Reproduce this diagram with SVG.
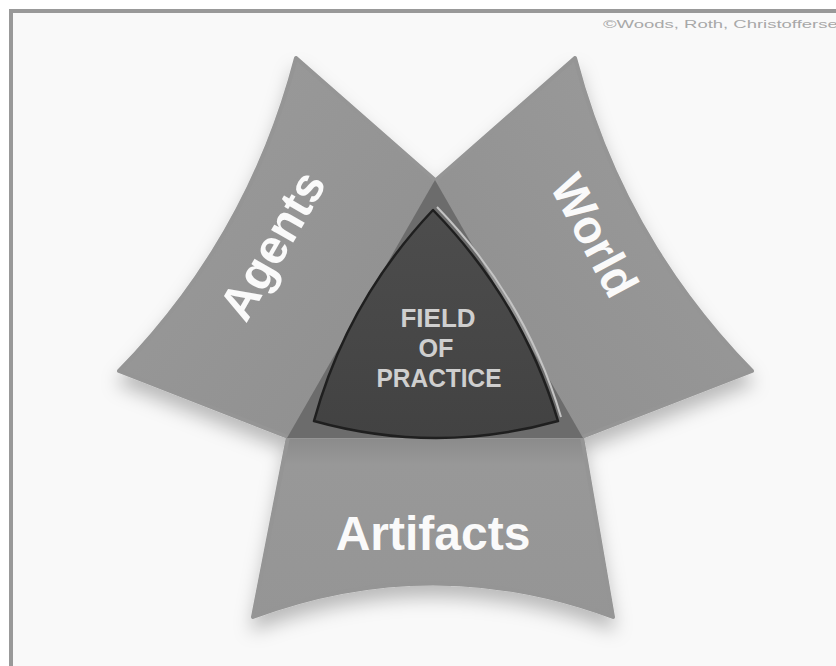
<svg xmlns="http://www.w3.org/2000/svg" width="836" height="666" viewBox="0 0 836 666">
  <defs>
    <filter id="shadow" x="-20%" y="-20%" width="140%" height="150%">
      <feDropShadow dx="0" dy="12" stdDeviation="9" flood-color="#000" flood-opacity="0.25"/>
    </filter>
    <linearGradient id="wingA" x1="0" y1="0" x2="1" y2="1">
      <stop offset="0" stop-color="#9c9c9c"/>
      <stop offset="1" stop-color="#8e8e8e"/>
    </linearGradient>
    <linearGradient id="wingW" x1="1" y1="0" x2="0" y2="1">
      <stop offset="0" stop-color="#9c9c9c"/>
      <stop offset="1" stop-color="#8e8e8e"/>
    </linearGradient>
    <linearGradient id="wingB" x1="0" y1="0" x2="0" y2="1">
      <stop offset="0" stop-color="#8a8a8a"/>
      <stop offset="0.15" stop-color="#989898"/>
      <stop offset="1" stop-color="#959595"/>
    </linearGradient>
    <linearGradient id="core" x1="0" y1="0" x2="0" y2="1">
      <stop offset="0" stop-color="#4d4d4d"/>
      <stop offset="1" stop-color="#424242"/>
    </linearGradient>
  </defs>
  <style>
    .wing { stroke-linejoin: round; stroke-width: 4; }
    .lbl { font-family: "Liberation Sans", Arial, sans-serif; font-weight: bold; font-size: 48px; fill: #fafafa; }
    .core { font-family: "Liberation Sans", Arial, sans-serif; font-weight: bold; font-size: 26px; fill: #cfcfcf; text-anchor: middle; }
  </style>

  <rect x="0" y="0" width="836" height="666" fill="#ffffff"/>
  <rect x="11" y="11" width="840" height="680" fill="#f9f9f9" stroke="#999999" stroke-width="4"/>
  <text x="603" y="28" font-family="Liberation Sans, Arial, sans-serif" font-size="10" fill="#a8a8a8" textLength="245" lengthAdjust="spacingAndGlyphs">©Woods, Roth, Christoffersen</text>

  <g filter="url(#shadow)">
    <g id="agents">
      <path class="wing" d="M296,58 L435,180 L435,437 L288,437 L119,371 Q249,238 296,58 Z" fill="url(#wingA)" stroke="#959595"/>
    </g>
    <g id="world">
      <path class="wing" d="M575,58 L436,180 L436,437 L582,437 L752,371 Q622,238 575,58 Z" fill="url(#wingW)" stroke="#959595"/>
    </g>
    <g id="artifacts">
      <path class="wing" d="M288,437 L582,437 L613,617 Q433,550 253,617 Z" fill="url(#wingB)" stroke="#959595"/>
    </g>
  </g>

  <g id="field-of-practice">
    <path d="M435,180 L583,438 L287,438 Z" fill="#6c6c6c"/>
    <path d="M433,210 Q522,301 558,421 Q436,455 314,421 Q347,301 433,210 Z" fill="url(#core)" stroke="#1f1f1f" stroke-width="2.5" stroke-linejoin="round"/>
    <path d="M437,207 Q526,299 561,417" fill="none" stroke="#c4c4c4" stroke-width="2"/>
    <text class="core" x="438" y="327" textLength="75" lengthAdjust="spacingAndGlyphs">FIELD</text>
    <text class="core" x="436" y="357" textLength="35" lengthAdjust="spacingAndGlyphs">OF</text>
    <text class="core" x="439" y="387" textLength="125" lengthAdjust="spacingAndGlyphs">PRACTICE</text>
  </g>

  <text class="lbl" text-anchor="middle" transform="translate(272,245) rotate(-60)" x="0" y="17">Agents</text>
  <text class="lbl" text-anchor="middle" transform="translate(594,236) rotate(62)" x="0" y="16" textLength="130" lengthAdjust="spacingAndGlyphs">World</text>
  <text class="lbl" text-anchor="middle" x="433" y="550">Artifacts</text>

  <g id="connectors"/>
</svg>
